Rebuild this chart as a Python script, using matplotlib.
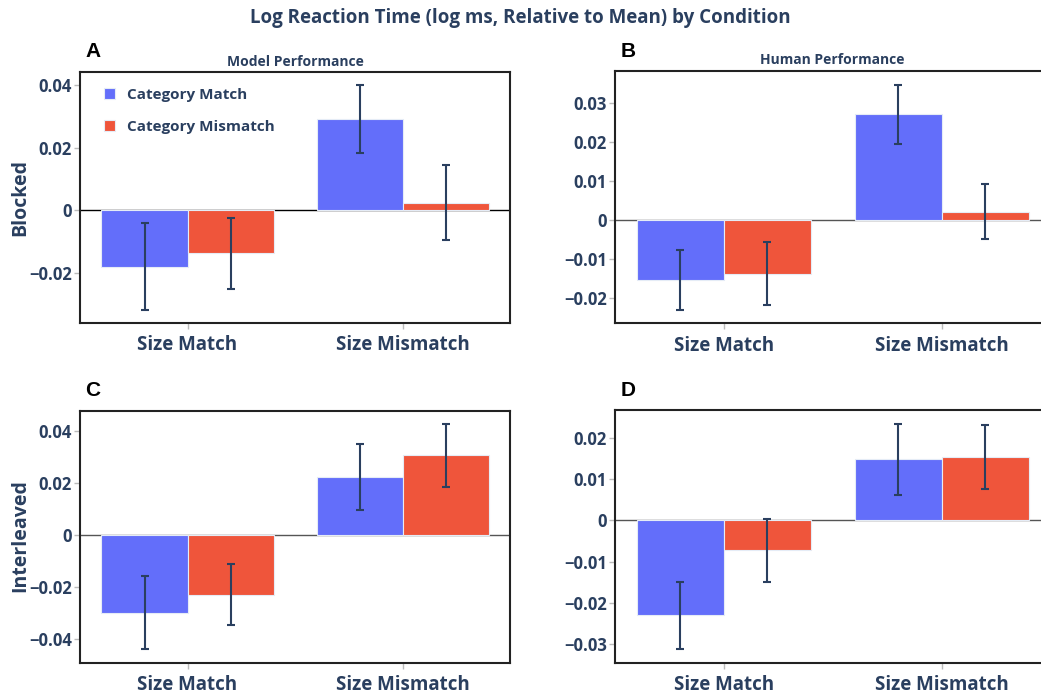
import matplotlib
matplotlib.use("Agg")
import matplotlib.pyplot as plt
from matplotlib.ticker import FuncFormatter
import numpy as np

plt.rcParams['font.family'] = ['Open Sans', 'DejaVu Sans']

# data
conditions = ["Size Match", "Size Mismatch"]
series = ["Category Match", "Category Mismatch"]

model_blocked_match = [-0.0180, 0.0293]
model_blocked_match_err = [0.0138, 0.0109]
model_blocked_mismatch = [-0.0137, 0.0024]
model_blocked_mismatch_err = [0.0114, 0.0120]

human_blocked_match = [-0.0155, 0.0272]
human_blocked_match_err = [0.0077, 0.0076]
human_blocked_mismatch = [-0.0138, 0.0021]
human_blocked_mismatch_err = [0.0081, 0.0071]

model_inter_match = [-0.0300, 0.0222]
model_inter_match_err = [0.0140, 0.0127]
model_inter_mismatch = [-0.0230, 0.0305]
model_inter_mismatch_err = [0.0118, 0.0120]

human_inter_match = [-0.0230, 0.0148]
human_inter_match_err = [0.0081, 0.0086]
human_inter_mismatch = [-0.0073, 0.0153]
human_inter_mismatch_err = [0.0076, 0.0077]

BLUE = '#636efa'
RED = '#ef553b'
NAVY = '#2a3f5f'

W, H = 1041, 692
fig = plt.figure(figsize=(W / 100, H / 100), dpi=100)


def px_axes(left, right, top, bottom):
    return fig.add_axes([left / W, 1 - bottom / H, (right - left) / W, (bottom - top) / H])


def fmt(v, pos):
    if abs(v) < 1e-9:
        return "0"
    return ("%.2f" % v).replace('-', '\u2212')


panels = [
    # letter, box, ylim, ticks, data, zero colour
    ("A", (80, 510, 71.7, 323), (-0.0360, 0.0443), [-0.02, 0, 0.02, 0.04],
     (model_blocked_match, model_blocked_match_err, model_blocked_mismatch, model_blocked_mismatch_err), 'black'),
    ("B", (615, 1050.5, 71.3, 323.3), (-0.02656, 0.0382), [-0.02, -0.01, 0, 0.01, 0.02, 0.03],
     (human_blocked_match, human_blocked_match_err, human_blocked_mismatch, human_blocked_mismatch_err), '#555555'),
    ("C", (80, 510, 410.7, 662.7), (-0.0492, 0.0477), [-0.04, -0.02, 0, 0.02, 0.04],
     (model_inter_match, model_inter_match_err, model_inter_mismatch, model_inter_mismatch_err), '#555555'),
    ("D", (615, 1050.5, 410.3, 662.7), (-0.03448, 0.02663), [-0.03, -0.02, -0.01, 0, 0.01, 0.02],
     (human_inter_match, human_inter_match_err, human_inter_mismatch, human_inter_mismatch_err), '#555555'),
]

x = np.arange(len(conditions))
bw = 0.4
axes = []
for letter, box, ylim, ticks, data, zc in panels:
    ax = px_axes(*box)
    m, me, mm, mme = data
    ax.bar(x - bw / 2, m, bw, color=BLUE, edgecolor='#e5ecf6', linewidth=0.8, zorder=2, label=series[0])
    ax.bar(x + bw / 2, mm, bw, color=RED, edgecolor='#e5ecf6', linewidth=0.8, zorder=2, label=series[1])
    ax.errorbar(x - bw / 2, m, yerr=me, fmt='none', ecolor=NAVY, elinewidth=1.5,
                capsize=2.6, capthick=1.5, zorder=3)
    ax.errorbar(x + bw / 2, mm, yerr=mme, fmt='none', ecolor=NAVY, elinewidth=1.5,
                capsize=2.6, capthick=1.5, zorder=3)
    ax.axhline(0, color=zc, linewidth=1, zorder=1)
    ax.set_xlim(-0.5, 1.5)
    ax.set_ylim(*ylim)
    ax.set_yticks(ticks)
    ax.yaxis.set_major_formatter(FuncFormatter(fmt))
    ax.set_xticks(x)
    ax.set_xticklabels(conditions)
    for s in ax.spines.values():
        s.set_linewidth(1.5)
        s.set_color('#222222')
    ax.tick_params(axis='y', length=4, width=1, color='#bbbbbb', pad=2,
                   labelsize=12, labelcolor=NAVY)
    ax.tick_params(axis='x', length=4, width=1, color='#bbbbbb', pad=5,
                   labelsize=13.5, labelcolor=NAVY)
    for lab in ax.get_xticklabels() + ax.get_yticklabels():
        lab.set_fontweight('bold')
    l, r, t, b = box
    fig.text((l + 5.5) / W, 1 - (t - 20) / H, letter, fontsize=15, fontweight='bold',
             family=['Liberation Sans', 'DejaVu Sans'], color='black', ha='left', va='center')
    axes.append(ax)

axA, axB, axC, axD = axes
axA.set_title("Model Performance", fontsize=10, fontweight='bold', color=NAVY, pad=4)
fig.text((615 + 1050.5) / 2 / W, 1 - 60 / H, "Human Performance", fontsize=10,
         fontweight='bold', color=NAVY, ha='center', va='center')

fig.text(20 / W, 1 - 197 / H, "Blocked", rotation=90, fontsize=14, fontweight='bold',
         color=NAVY, ha='center', va='center')
fig.text(20 / W, 1 - 536 / H, "Interleaved", rotation=90, fontsize=14, fontweight='bold',
         color=NAVY, ha='center', va='center')

fig.text(0.5, 1 - 18 / H, "Log Reaction Time (log ms, Relative to Mean) by Condition",
         fontsize=13.5, fontweight='bold', color=NAVY, ha='center', va='center')

leg = axA.legend(loc='upper left', bbox_to_anchor=(104 / W, 1 - 88 / H),
                 bbox_transform=fig.transFigure, frameon=False, borderpad=0,
                 borderaxespad=0, handlelength=0.7, handleheight=0.7,
                 handletextpad=0.8, labelspacing=1.15,
                 prop={'family': 'Open Sans', 'weight': 'bold', 'size': 11})
for t in leg.get_texts():
    t.set_color(NAVY)

fig.savefig("out.png", dpi=100)
